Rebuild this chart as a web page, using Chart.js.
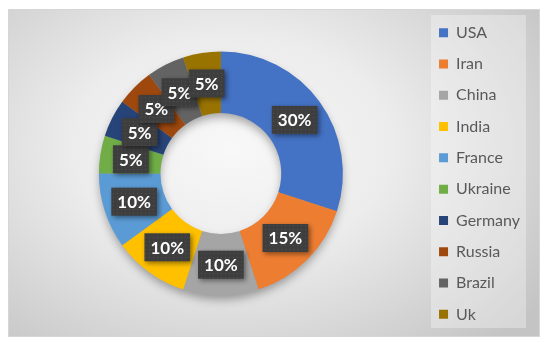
<!DOCTYPE html>
<html>
<head>
<meta charset="utf-8">
<script src="https://cdn.jsdelivr.net/npm/chart.js@4.4.1/dist/chart.umd.min.js"></script>
<style>
    html, body { margin: 0; padding: 0; background: #ffffff; }
    #frame {
        position: absolute; left: 8px; top: 9px; width: 530px; height: 326px;
        border: 1px solid #d6d6d6;
        background: radial-gradient(ellipse 72% 82% at 42% 42%, #f8f8f8 0%, #ececec 42%, #c4c4c4 100%);
    }
    #wrap { position: absolute; left: 0; top: 0; width: 550px; height: 347px; }
</style>
</head>
<body>
<div id="frame"></div>
<div id="wrap"><canvas id="shareChart" width="550" height="347"></canvas></div>
<script>
var countries = ['USA', 'Iran', 'China', 'India', 'France', 'Ukraine', 'Germany', 'Russia', 'Brazil', 'Uk'];
var shares = [30, 15, 10, 10, 10, 5, 5, 5, 5, 5];
var sliceColors = ['#4472C4', '#ED7D31', '#A5A5A5', '#FFC000', '#5B9BD5',
                   '#70AD47', '#264478', '#9E480E', '#636363', '#997300'];

document.addEventListener('DOMContentLoaded', function () {
    // dotted dark fill for the data label boxes
    var tile = document.createElement('canvas');
    tile.width = 4; tile.height = 4;
    var tctx = tile.getContext('2d');
    tctx.fillStyle = '#3e3e3e';
    tctx.fillRect(0, 0, 4, 4);
    tctx.fillStyle = '#505050';
    tctx.fillRect(1, 1, 1, 1);

    var ringShadow = {
        id: 'ringShadow',
        beforeDraw: function (chart) {
            var ctx = chart.ctx;
            ctx.save();
            ctx.fillStyle = 'rgba(255,255,255,0.32)';
            ctx.fillRect(431, 15, 95, 313);
            ctx.restore();
        },
        beforeDatasetsDraw: function (chart) {
            var arc = chart.getDatasetMeta(0).data[0];
            if (!arc) return;
            var ctx = chart.ctx;
            ctx.save();
            ctx.shadowColor = 'rgba(0,0,0,0.35)';
            ctx.shadowBlur = 10;
            ctx.shadowOffsetY = 5;
            ctx.fillStyle = '#999';
            ctx.beginPath();
            ctx.arc(arc.x, arc.y, arc.outerRadius - 1, 0, Math.PI * 2);
            ctx.arc(arc.x, arc.y, arc.innerRadius + 1, 0, Math.PI * 2, true);
            ctx.fill();
            ctx.restore();
        }
    };

    var boxLabels = {
        id: 'boxLabels',
        afterDatasetsDraw: function (chart) {
            var ctx = chart.ctx;
            var pattern = ctx.createPattern(tile, 'repeat');
            var data = chart.data.datasets[0].data;
            var total = data.reduce(function (a, b) { return a + b; }, 0);
            chart.getDatasetMeta(0).data.forEach(function (arc, i) {
                var pos = arc.tooltipPosition();
                var text = Math.round(data[i] / total * 100) + '%';
                ctx.save();
                ctx.font = 'bold 17px Lato';
                var w = ctx.measureText(text).width + 12;
                var h = 28;
                ctx.shadowColor = 'rgba(0,0,0,0.45)';
                ctx.shadowBlur = 5;
                ctx.shadowOffsetX = 2;
                ctx.shadowOffsetY = 2;
                ctx.fillStyle = pattern;
                ctx.fillRect(pos.x - w / 2, pos.y - h / 2, w, h);
                ctx.shadowColor = 'transparent';
                ctx.fillStyle = '#ffffff';
                ctx.textAlign = 'center';
                ctx.textBaseline = 'middle';
                ctx.fillText(text, pos.x, pos.y + 1);
                ctx.restore();
            });
        }
    };

    var ctx = document.getElementById('shareChart').getContext('2d');
    var shareChart = new Chart(ctx, {
        type: 'doughnut',
        data: {
            labels: countries,
            datasets: [{
                data: shares,
                backgroundColor: sliceColors,
                borderWidth: 0,
                radius: 122
            }]
        },
        options: {
            responsive: false,
            animation: false,
            cutout: '49.5%',
            layout: { padding: { left: 18, right: 20, top: 0, bottom: 0 } },
            plugins: {
                tooltip: { enabled: false },
                legend: {
                    position: 'right',
                    labels: {
                        boxWidth: 9,
                        boxHeight: 9,
                        padding: 15.3,
                        color: '#595959',
                        font: { family: 'Lato', size: 16 }
                    }
                }
            }
        },
        plugins: [ringShadow, boxLabels]
    });
});
</script>
</body>
</html>
